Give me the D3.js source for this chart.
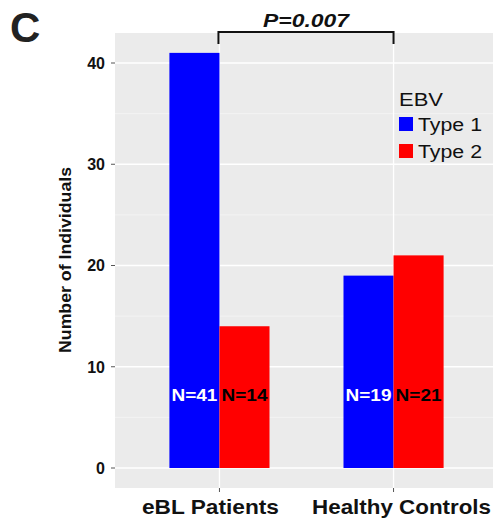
<!DOCTYPE html>
<html><head><meta charset="utf-8">
<script src="https://cdn.jsdelivr.net/npm/d3@7"></script>
<style>body{margin:0;background:#fff;font-family:"Liberation Sans",Arial,sans-serif;}</style>
</head><body>
<svg id="c" width="493" height="519"></svg>
<script>
const categories = ["eBL Patients", "Healthy Controls"];
const seriesNames = ["Type 1", "Type 2"];
const type1 = [41, 19];
const type2 = [14, 21];
const yTicks = [0, 10, 20, 30, 40];
const pLabel = "P=0.007";
const colors = {"Type 1": "#0000FF", "Type 2": "#FF0000"};

const svg = d3.select("#c");
const panel = {left: 115, top: 33, right: 498, bottom: 488};

const xc = d3.scaleLinear().domain([0.4, 2.6]).range([panel.left, panel.right]);
const y = d3.scaleLinear().domain([0, 40]).range([468, 63]);

svg.append("rect").attr("x", panel.left).attr("y", panel.top)
  .attr("width", panel.right - panel.left).attr("height", panel.bottom - panel.top).attr("fill", "#EBEBEB");

[5, 15, 25, 35].forEach(v => svg.append("line").attr("x1", panel.left).attr("x2", panel.right)
  .attr("y1", y(v)).attr("y2", y(v)).attr("stroke", "#F5F5F5").attr("stroke-width", 0.8));
yTicks.forEach(v => svg.append("line").attr("x1", panel.left).attr("x2", panel.right)
  .attr("y1", y(v)).attr("y2", y(v)).attr("stroke", "#FFFFFF").attr("stroke-width", 1.3));
categories.forEach((c, i) => svg.append("line").attr("x1", xc(i + 1)).attr("x2", xc(i + 1))
  .attr("y1", panel.top).attr("y2", panel.bottom).attr("stroke", "#FFFFFF").attr("stroke-width", 1.3));

const barW = 0.2875;
const data = [];
categories.forEach((c, i) => {
  data.push({cat: c, i, s: "Type 1", v: type1[i], x0: i + 1 - barW, x1: i + 1});
  data.push({cat: c, i, s: "Type 2", v: type2[i], x0: i + 1, x1: i + 1 + barW});
});
svg.selectAll("rect.bar").data(data).enter().append("rect").attr("class", "bar")
  .attr("x", d => xc(d.x0)).attr("width", d => xc(d.x1) - xc(d.x0))
  .attr("y", d => y(d.v)).attr("height", d => y(0) - y(d.v))
  .attr("fill", d => colors[d.s]);

svg.selectAll("text.n").data(data).enter().append("text").attr("class", "n")
  .attr("x", d => (xc(d.x0) + xc(d.x1)) / 2).attr("y", 401)
  .attr("text-anchor", "middle").attr("font-size", 17).attr("font-weight", "bold")
  .attr("textLength", 46).attr("lengthAdjust", "spacingAndGlyphs")
  .attr("fill", d => d.s === "Type 1" ? "#FFFFFF" : "#000000")
  .text(d => "N=" + d.v);

yTicks.forEach(v => {
  svg.append("line").attr("x1", panel.left - 4).attr("x2", panel.left).attr("y1", y(v)).attr("y2", y(v))
    .attr("stroke", "#555").attr("stroke-width", 1);
  svg.append("text").attr("x", 105).attr("y", y(v)).attr("dy", "0.36em")
    .attr("text-anchor", "end").attr("font-size", 16).attr("font-weight", "bold").attr("fill", "#111").text(v);
});
const labelOffset = [-9, 8];
const labelLen = [137, 179];
categories.forEach((c, i) => {
  svg.append("line").attr("x1", xc(i + 1)).attr("x2", xc(i + 1)).attr("y1", panel.bottom).attr("y2", panel.bottom + 4)
    .attr("stroke", "#555").attr("stroke-width", 1);
  svg.append("text").attr("x", xc(i + 1) + labelOffset[i]).attr("y", 514).attr("text-anchor", "middle")
    .attr("font-size", 21).attr("font-weight", "bold").attr("fill", "#111")
    .attr("textLength", labelLen[i]).attr("lengthAdjust", "spacingAndGlyphs").text(c);
});

svg.append("text").attr("transform", "translate(71,260) rotate(-90)")
  .attr("text-anchor", "middle").attr("font-size", 17).attr("font-weight", "bold").attr("fill", "#111")
  .attr("textLength", 186).attr("lengthAdjust", "spacingAndGlyphs")
  .text("Number of Individuals");

const bx1 = xc(1) - 1, bx2 = xc(2);
svg.append("path").attr("d", `M${bx1},44 V32 H${bx2} V44`).attr("fill", "none")
  .attr("stroke", "#111").attr("stroke-width", 2);
svg.append("text").attr("x", 306).attr("y", 27).attr("text-anchor", "middle")
  .attr("font-size", 18).attr("font-weight", "bold").attr("font-style", "italic").attr("fill", "#111")
  .attr("textLength", 86).attr("lengthAdjust", "spacingAndGlyphs").text(pLabel);

svg.append("text").attr("x", 399).attr("y", 106).attr("font-size", 19).attr("fill", "#111")
  .attr("textLength", 44).attr("lengthAdjust", "spacingAndGlyphs").text("EBV");
seriesNames.forEach((s, k) => {
  const yy = 117 + k * 27;
  svg.append("rect").attr("x", 399).attr("y", yy).attr("width", 14).attr("height", 14).attr("fill", colors[s]);
  svg.append("text").attr("x", 418).attr("y", yy + 14).attr("font-size", 18)
    .attr("textLength", 64).attr("lengthAdjust", "spacingAndGlyphs")
    .attr("fill", "#111").text(s);
});

svg.append("text").attr("x", 10).attr("y", 42).attr("font-size", 42).attr("font-weight", "bold")
  .attr("fill", "#222").text("C");
</script>
</body></html>
